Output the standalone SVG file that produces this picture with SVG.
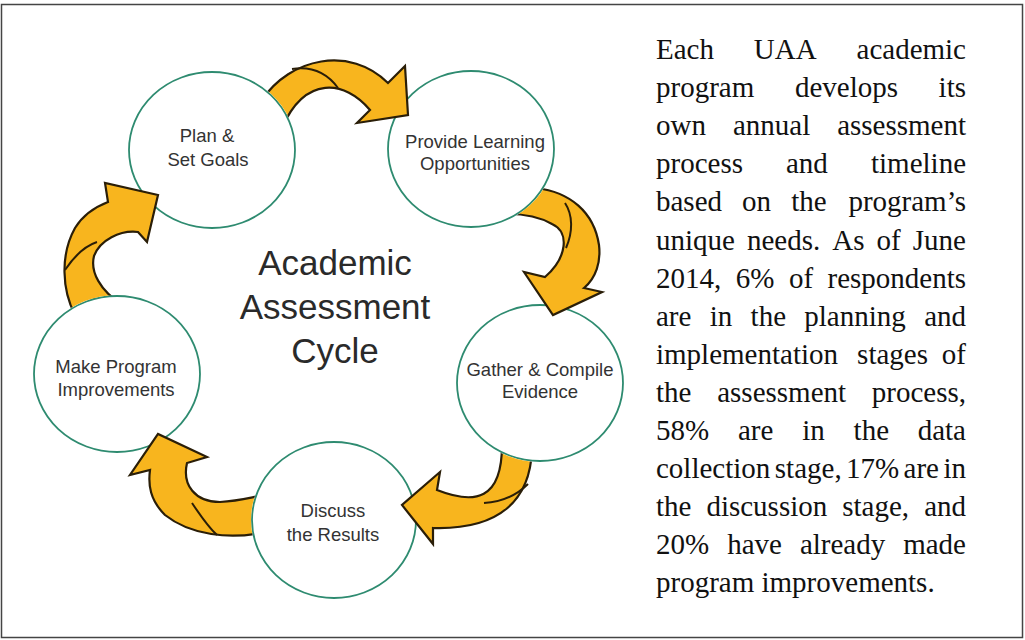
<svg xmlns="http://www.w3.org/2000/svg" width="1025" height="640" viewBox="0 0 1025 640">
<style>
.node{fill:#fff;stroke:#2e8b70;stroke-width:1.8}
.lbl{font-family:"Liberation Sans",Arial,sans-serif;font-size:18.5px;fill:#333;text-anchor:middle}
.title{font-family:"Liberation Sans",Arial,sans-serif;font-size:35px;fill:#2a2a2a;text-anchor:middle}
.arrow{fill:#F8B51E;stroke:#2a1e08;stroke-width:2.2;stroke-linejoin:miter}
.fold{fill:none;stroke:#2a1e08;stroke-width:2}
.body{font-family:"Liberation Serif","Times New Roman",serif;font-size:29px;fill:#111}
.e{text-anchor:end}
</style>
<defs>
<mask id="m1" maskUnits="userSpaceOnUse" x="0" y="0" width="1025" height="640"><rect width="1025" height="640" fill="#fff"/><ellipse cx="212" cy="150" rx="84" ry="79" fill="#000"/></mask>
<mask id="m2" maskUnits="userSpaceOnUse" x="0" y="0" width="1025" height="640"><rect width="1025" height="640" fill="#fff"/><ellipse cx="471" cy="149" rx="84" ry="79" fill="#000"/></mask>
<mask id="m3" maskUnits="userSpaceOnUse" x="0" y="0" width="1025" height="640"><rect width="1025" height="640" fill="#fff"/><ellipse cx="540" cy="383" rx="84" ry="79" fill="#000"/></mask>
<mask id="m4" maskUnits="userSpaceOnUse" x="0" y="0" width="1025" height="640"><rect width="1025" height="640" fill="#fff"/><ellipse cx="334" cy="520" rx="83" ry="79" fill="#000"/></mask>
<mask id="m5" maskUnits="userSpaceOnUse" x="0" y="0" width="1025" height="640"><rect width="1025" height="640" fill="#fff"/><ellipse cx="117" cy="374" rx="84" ry="79" fill="#000"/></mask>
</defs>
<rect x="1.5" y="4.5" width="1021" height="633" fill="#fff" stroke="#444" stroke-width="1.5"/>

<g id="node-plan">
<ellipse class="node" cx="212" cy="150" rx="83" ry="78"/>
<text class="lbl" x="207" y="142">Plan &amp;</text>
<text class="lbl" x="208" y="166">Set Goals</text>
</g>
<g id="node-provide">
<ellipse class="node" cx="471" cy="149" rx="83" ry="78"/>
<text class="lbl" x="475" y="148">Provide Learning</text>
<text class="lbl" x="475" y="170">Opportunities</text>
</g>
<g id="node-gather">
<ellipse class="node" cx="540" cy="383" rx="83" ry="78"/>
<text class="lbl" x="540" y="376">Gather &amp; Compile</text>
<text class="lbl" x="540" y="398">Evidence</text>
</g>
<g id="node-discuss">
<ellipse class="node" cx="334" cy="520" rx="82" ry="78"/>
<text class="lbl" x="333" y="517">Discuss</text>
<text class="lbl" x="333" y="541">the Results</text>
</g>
<g id="node-make">
<ellipse class="node" cx="117" cy="374" rx="83" ry="78"/>
<text class="lbl" x="116" y="373">Make Program</text>
<text class="lbl" x="116" y="396">Improvements</text>
</g>

<g id="connectors">
<g mask="url(#m1)">
<path class="arrow" d="M262,100 C290,58 350,45 388,83 L405,66 L408,115 L357,123 L370,110 C345,80 305,75 282,128 Z"/>
<path class="fold" d="M292,69 C312,66 327,73 338,88"/>
</g>
<g mask="url(#m2)">
<path class="arrow" d="M536,188 C570,192 594,212 599,245 C601,262 596,278 584,288 L602,292 L553,315 L524,272 L545,277 C567,258 570,232 552,224 C538,216 524,214 508,214 Z"/>
<path class="fold" d="M565,203 C573,215 573,232 566,248"/>
</g>
<g mask="url(#m3)">
<path class="arrow" d="M532,450 C530,500 500,530 433,528 L433,544 L402,505 L440,472 L437,490 C475,505 502,500 502,445 Z"/>
<path class="fold" d="M528,484 C515,497 500,502 484,503"/>
</g>
<g mask="url(#m4)">
<path class="arrow" d="M265,532 C230,540 190,535 165,515 C150,500 148,485 150,470 L130,475 L158,434 L207,457 L187,463 C182,485 195,502 220,502 C240,501 252,497 265,495 Z"/>
<path class="fold" d="M192,503 C200,515 208,527 217,535"/>
</g>
<g mask="url(#m5)">
<path class="arrow" d="M75,315 C62,290 60,255 75,228 C83,215 95,207 108,202 L105,183 L158,195 L147,242 L138,232 C120,230 100,240 94,256 C90,272 100,290 122,305 Z"/>
<path class="fold" d="M65,270 C75,255 85,246 97,242"/>
</g>
</g>

<g id="title">
<text class="title" x="335" y="275">Academic</text>
<text class="title" x="335" y="319">Assessment</text>
<text class="title" x="335" y="363">Cycle</text>
</g>

<g id="description" class="body">
<text y="59"><tspan x="656">Each</tspan><tspan x="753.8">UAA</tspan></text><text class="e" x="966" y="59">academic</text>
<text y="97"><tspan x="656">program</tspan><tspan x="794.9">develops</tspan></text><text class="e" x="966" y="97">its</text>
<text y="135"><tspan x="656">own</tspan><tspan x="732.9">annual</tspan></text><text class="e" x="966" y="135">assessment</text>
<text y="173"><tspan x="656">process</tspan><tspan x="786">and</tspan></text><text class="e" x="966" y="173">timeline</text>
<text y="211"><tspan x="656">based</tspan><tspan x="742.1">on</tspan><tspan x="791.3">the</tspan></text><text class="e" x="966" y="211">program’s</text>
<text y="250"><tspan x="656">unique</tspan><tspan x="747">needs.</tspan><tspan x="832.3">As</tspan><tspan x="876.6">of</tspan></text><text class="e" x="966" y="250">June</text>
<text y="288"><tspan x="656">2014,</tspan><tspan x="735.7">6%</tspan><tspan x="788.9">of</tspan></text><text class="e" x="966" y="288">respondents</text>
<text y="326"><tspan x="656">are</tspan><tspan x="709.7">in</tspan><tspan x="750.6">the</tspan><tspan x="804.3">planning</tspan></text><text class="e" x="966" y="326">and</text>
<text y="364"><tspan x="656">implementation</tspan><tspan x="857.1">stages</tspan></text><text class="e" x="966" y="364">of</text>
<text y="402"><tspan x="656">the</tspan><tspan x="717.2">assessment</tspan></text><text class="e" x="966" y="402">process,</text>
<text y="440"><tspan x="656">58%</tspan><tspan x="738">are</tspan><tspan x="802.2">in</tspan><tspan x="853.6">the</tspan></text><text class="e" x="966" y="440">data</text>
<text y="478"><tspan x="656">collection</tspan><tspan x="774.8">stage,</tspan><tspan x="846">17%</tspan><tspan x="903.6">are</tspan></text><text class="e" x="966" y="478">in</text>
<text y="516"><tspan x="656">the</tspan><tspan x="706.4">discussion</tspan><tspan x="842.2">stage,</tspan></text><text class="e" x="966" y="516">and</text>
<text y="554"><tspan x="656">20%</tspan><tspan x="727.2">have</tspan><tspan x="799.9">already</tspan></text><text class="e" x="966" y="554">made</text>
<text x="656" y="592">program improvements.</text>
</g>
</svg>
